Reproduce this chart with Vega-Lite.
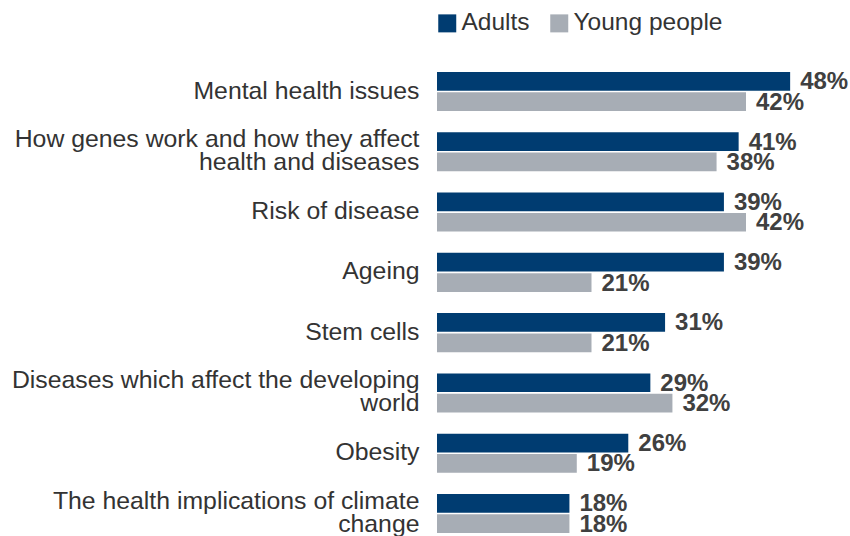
{
  "$schema": "https://vega.github.io/schema/vega-lite/v6.json",
  "autosize": {"type": "none"},
  "padding": {"left": 437, "top": 72, "right": 1, "bottom": 3},
  "width": 412,
  "height": 461,
  "background": "white",
  "config": {
    "view": {"stroke": null},
    "font": "Liberation Sans"
  },
  "data": {
    "values": [
      {"topic": "Mental health issues", "group": "Adults", "value": 0.48},
      {"topic": "Mental health issues", "group": "Young people", "value": 0.42},
      {"topic": "How genes work and how they affect|health and diseases", "group": "Adults", "value": 0.41},
      {"topic": "How genes work and how they affect|health and diseases", "group": "Young people", "value": 0.38},
      {"topic": "Risk of disease", "group": "Adults", "value": 0.39},
      {"topic": "Risk of disease", "group": "Young people", "value": 0.42},
      {"topic": "Ageing", "group": "Adults", "value": 0.39},
      {"topic": "Ageing", "group": "Young people", "value": 0.21},
      {"topic": "Stem cells", "group": "Adults", "value": 0.31},
      {"topic": "Stem cells", "group": "Young people", "value": 0.21},
      {"topic": "Diseases which affect the developing|world", "group": "Adults", "value": 0.29},
      {"topic": "Diseases which affect the developing|world", "group": "Young people", "value": 0.32},
      {"topic": "Obesity", "group": "Adults", "value": 0.26},
      {"topic": "Obesity", "group": "Young people", "value": 0.19},
      {"topic": "The health implications of climate|change", "group": "Adults", "value": 0.18},
      {"topic": "The health implications of climate|change", "group": "Young people", "value": 0.18}
    ]
  },
  "encoding": {
    "y": {
      "field": "topic",
      "type": "nominal",
      "sort": null,
      "scale": {"paddingInner": 0.352, "paddingOuter": 0},
      "axis": {
        "title": null,
        "domain": false,
        "ticks": false,
        "labelPadding": 18,
        "labelFontSize": 24.8,
        "labelColor": "#333333",
        "labelLineHeight": 23,
        "labelLimit": 500,
        "labelOffset": {"condition": {"test": "indexof(datum.value, '|') >= 0", "value": -11.5}, "value": 0},
        "labelExpr": "split(datum.label, '|')"
      }
    },
    "yOffset": {
      "field": "group",
      "type": "nominal",
      "sort": ["Adults", "Young people"],
      "scale": {"paddingInner": 0.08, "paddingOuter": 0}
    },
    "x": {
      "field": "value",
      "type": "quantitative",
      "scale": {"domain": [0, 0.56]},
      "axis": null
    }
  },
  "layer": [
    {
      "mark": {"type": "bar", "cornerRadius": 0},
      "encoding": {
        "color": {
          "field": "group",
          "type": "nominal",
          "scale": {"domain": ["Adults", "Young people"], "range": ["#003C71", "#A7ADB5"]},
          "legend": {
            "title": null,
            "orient": "none",
            "legendX": -2,
            "legendY": -61,
            "direction": "horizontal",
            "symbolType": "square",
            "symbolSize": 324,
            "symbolStrokeWidth": 0,
            "labelFontSize": 24.5,
            "labelColor": "#333333",
            "labelOffset": 2,
            "columnPadding": 17,
            "padding": 0
          }
        }
      }
    },
    {
      "mark": {
        "type": "text",
        "align": "left",
        "baseline": "middle",
        "dx": 10,
        "dy": 1,
        "fontSize": 24,
        "fontWeight": "bold",
        "color": "#404040"
      },
      "encoding": {
        "text": {"field": "value", "type": "quantitative", "format": ".0%"}
      }
    }
  ]
}
